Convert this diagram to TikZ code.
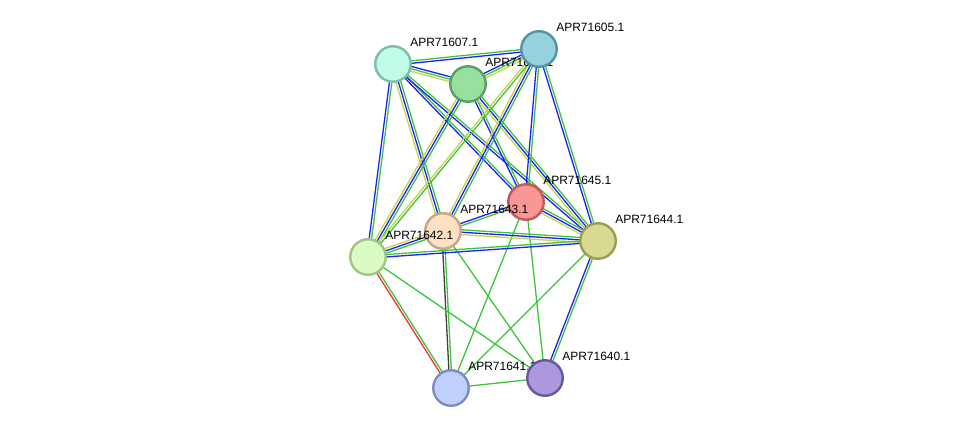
\documentclass[tikz,border=0pt]{standalone}
\usepackage{fontspec}
\setmainfont{Liberation Sans}
\usetikzlibrary{calc}
\definecolor{evgreen}{RGB}{60,198,60}
\definecolor{evblue}{RGB}{32,32,250}
\definecolor{evyellow}{RGB}{198,212,72}
\definecolor{evred}{RGB}{244,48,48}
\definecolor{evblack}{RGB}{64,64,64}
\tikzset{
  protnode/.style={circle, draw, line width=2.4pt, minimum size=35.5pt, inner sep=0pt},
  protlabel/.style={font=\fontsize{12}{14}\selectfont, inner sep=0.5pt, text=black},
  evline/.style={line width=1.3pt}
}
\newcommand{\evlink}[3]{%
  \foreach \ecol/\eoff in {#3}
    \draw[evline, \ecol] ($(#1.center)!\eoff pt!90:(#2.center)$) -- ($(#2.center)!\eoff pt!-90:(#1.center)$);
}

\begin{document}
\begin{tikzpicture}[x=1pt, y=-1pt, label distance=4.5pt]
  \useasboundingbox[fill=white] (0,0) rectangle (975,434);
  % positions only, drawn later
  \coordinate (p607) at (393,64);
  \coordinate (p606) at (468,84);
  \coordinate (p605) at (539,49);
  \coordinate (p645) at (526,202);
  \coordinate (p643) at (443,231);
  \coordinate (p642) at (368,257);
  \coordinate (p644) at (598,241);
  \coordinate (p641) at (451,388);
  \coordinate (p640) at (545,378);

  % evidence lines
  \evlink{p607}{p605}{evblue/-1.2, evgreen/1.2}
  \evlink{p607}{p606}{evyellow/-2.4, evgreen/0, evblue/2.4}
  \evlink{p607}{p642}{evblue/-1.2, evgreen/1.2}
  \evlink{p607}{p643}{evyellow/-2.4, evblue/0, evgreen/2.4}
  \evlink{p607}{p645}{evblue/-1.2, evgreen/1.2}
  \evlink{p607}{p644}{evblue/-1.2, evgreen/1.2}
  \evlink{p606}{p605}{evyellow/-2.4, evgreen/0, evblue/2.4}
  \evlink{p606}{p642}{evyellow/-2.4, evblue/0, evgreen/2.4}
  \evlink{p606}{p645}{evblue/-1.2, evgreen/1.2}
  \evlink{p606}{p644}{evyellow/-2.4, evblue/0, evgreen/2.4}
  \evlink{p605}{p643}{evyellow/-2.4, evblue/0, evgreen/2.4}
  \evlink{p605}{p642}{evyellow/-1.2, evgreen/1.2}
  \evlink{p605}{p645}{evblue/-1.2, evgreen/1.2}
  \evlink{p605}{p644}{evblue/-1.2, evgreen/1.2}
  \evlink{p645}{p643}{evblue/-1.2, evgreen/1.2}
  \evlink{p645}{p644}{evyellow/-2.4, evblue/0, evgreen/2.4}
  \evlink{p645}{p641}{evgreen/0}
  \evlink{p645}{p640}{evgreen/0}
  \evlink{p643}{p642}{evyellow/-2.4, evblue/0, evgreen/2.4}
  \evlink{p643}{p644}{evyellow/-2.4, evblue/0, evgreen/2.4}
  \evlink{p643}{p641}{evblack/-1.2, evgreen/1.2}
  \evlink{p643}{p640}{evgreen/0}
  \evlink{p642}{p644}{evblue/-1.2, evgreen/1.2}
  \evlink{p642}{p641}{evred/-1.2, evgreen/1.2}
  \evlink{p642}{p640}{evgreen/0}
  \evlink{p644}{p641}{evgreen/0}
  \evlink{p644}{p640}{evblue/-1.2, evgreen/1.2}
  \evlink{p641}{p640}{evgreen/0}

  % proteins
  \node[protnode, fill={rgb,255:red,192;green,252;blue,230}, draw={rgb,255:red,124;green,190;blue,168}, label={[protlabel]45:APR71607.1}] (n607) at (p607) {};
  \node[protnode, fill={rgb,255:red,152;green,224;blue,160}, draw={rgb,255:red,90;green,160;blue,96}, label={[protlabel]45:APR71606.1}] (n606) at (p606) {};
  \node[protnode, fill={rgb,255:red,150;green,210;blue,222}, draw={rgb,255:red,86;green,146;blue,166}, label={[protlabel]45:APR71605.1}] (n605) at (p605) {};
  \node[protnode, fill={rgb,255:red,250;green,150;blue,150}, draw={rgb,255:red,190;green,90;blue,90}, label={[protlabel]45:APR71645.1}] (n645) at (p645) {};
  \node[protnode, fill={rgb,255:red,254;green,224;blue,196}, draw={rgb,255:red,200;green,166;blue,132}, label={[protlabel]45:APR71643.1}] (n643) at (p643) {};
  \node[protnode, fill={rgb,255:red,218;green,252;blue,196}, draw={rgb,255:red,160;green,196;blue,132}, label={[protlabel]45:APR71642.1}] (n642) at (p642) {};
  \node[protnode, fill={rgb,255:red,216;green,218;blue,148}, draw={rgb,255:red,156;green,156;blue,82}, label={[protlabel]45:APR71644.1}] (n644) at (p644) {};
  \node[protnode, fill={rgb,255:red,192;green,208;blue,252}, draw={rgb,255:red,124;green,140;blue,190}, label={[protlabel]45:APR71641.1}] (n641) at (p641) {};
  \node[protnode, fill={rgb,255:red,172;green,152;blue,220}, draw={rgb,255:red,106;green,86;blue,156}, label={[protlabel]45:APR71640.1}] (n640) at (p640) {};
\end{tikzpicture}
\end{document}
